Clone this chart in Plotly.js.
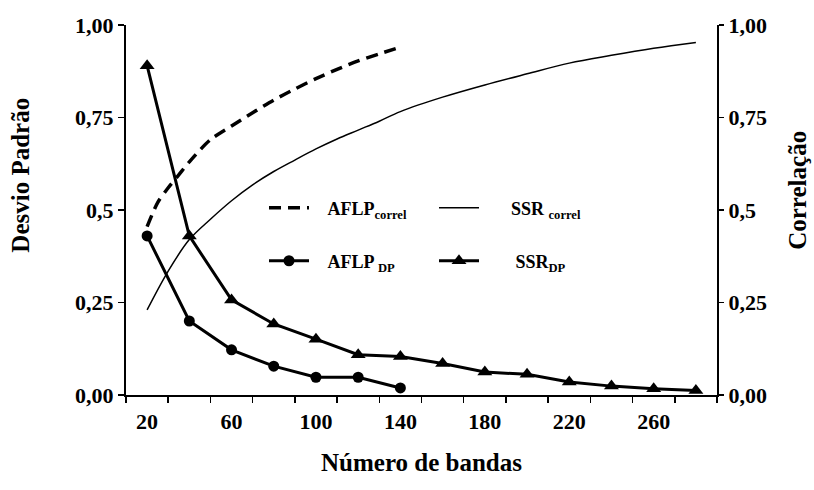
<!DOCTYPE html>
<html>
<head>
<meta charset="utf-8">
<script src="https://cdn.plot.ly/plotly-3.0.1.min.js"></script>
<style>html,body{margin:0;padding:0;background:#fff;}#chart{width:814px;height:490px;}</style>
</head>
<body>
<div id="chart"></div>
<script>
// Categories (número de bandas)
const categories = [20, 40, 60, 80, 100, 120, 140, 160, 180, 200, 220, 240, 260, 280];
const xTickLabels = [20, 60, 100, 140, 180, 220, 260];
const yTickVals = [0, 0.25, 0.5, 0.75, 1];
const yTickText = ["0,00", "0,25", "0,5", "0,75", "1,00"];

// Desvio padrão
const aflpDP = [0.43, 0.20, 0.122, 0.078, 0.048, 0.048, 0.019];
const ssrDP = [0.89, 0.43, 0.257, 0.192, 0.151, 0.109, 0.104, 0.085, 0.062, 0.056, 0.035, 0.024, 0.017, 0.012];

// Correlação
const aflpCorrX = [20, 25, 30, 35, 40, 50, 60, 70, 80, 90, 100, 110, 120, 130, 140];
const aflpCorrY = [0.455, 0.52, 0.56, 0.595, 0.63, 0.69, 0.727, 0.763, 0.797, 0.827, 0.855, 0.88, 0.903, 0.922, 0.94];
const ssrCorrX = [20, 30, 40, 50, 60, 70, 80, 90, 100, 110, 120, 130, 140, 160, 180, 200, 220, 240, 260, 280];
const ssrCorrY = [0.23, 0.335, 0.42, 0.475, 0.525, 0.568, 0.604, 0.635, 0.665, 0.692, 0.716, 0.74, 0.766, 0.805, 0.838, 0.868, 0.897, 0.918, 0.937, 0.953];

const serif = "Liberation Serif, Times New Roman, serif";

const traces = [
  {x: aflpCorrX, y: aflpCorrY, yaxis: 'y2', mode: 'lines', name: '&nbsp;&nbsp;&nbsp;AFLP<sub>correl</sub>',
   line: {color: '#000', width: 3.5, dash: '12px,7px', shape: 'spline', smoothing: 0.8}, legend: 'legend'},
  {x: ssrCorrX, y: ssrCorrY, yaxis: 'y2', mode: 'lines', name: '&nbsp;&nbsp;&nbsp;&nbsp;&nbsp;&nbsp;SSR <sub>correl</sub>',
   line: {color: '#000', width: 1.5, shape: 'spline', smoothing: 1}, legend: 'legend'},
  {x: categories.slice(0, aflpDP.length), y: aflpDP, mode: 'lines+markers', name: '&nbsp;&nbsp;&nbsp;AFLP <sub>DP</sub>',
   line: {color: '#000', width: 3}, marker: {symbol: 'circle', size: 11, color: '#000'}, legend: 'legend2'},
  {x: categories, y: ssrDP, mode: 'lines+markers', name: '&nbsp;&nbsp;&nbsp;&nbsp;&nbsp;&nbsp;&nbsp;SSR<sub>DP</sub>',
   line: {color: '#000', width: 3}, marker: {symbol: 'triangle-up', size: 13, color: '#000'}, legend: 'legend2'}
];

const tickFont = {family: serif, size: 22, color: '#000', weight: 'bold'};
const legendFont = {family: serif, size: 18, color: '#000', weight: 'bold'};
const titleFont = {family: serif, size: 25, color: '#000', weight: 'bold'};

const layout = {
  width: 814, height: 490,
  margin: {l: 126, r: 97, t: 25, b: 95},
  paper_bgcolor: '#fff', plot_bgcolor: '#fff',
  showlegend: true,
  xaxis: {
    range: [10, 290], tickvals: xTickLabels, ticktext: xTickLabels.map(String),
    ticks: 'outside', ticklen: 6, tickcolor: 'rgba(0,0,0,0)',
    minor: {tick0: 10, dtick: 20, ticks: 'outside', ticklen: 6, tickwidth: 1.5, tickcolor: '#000', showgrid: false},
    showline: true, linecolor: '#000', linewidth: 2, showgrid: false, zeroline: false,
    tickfont: tickFont,
    title: {text: 'Número de bandas', font: titleFont, standoff: 20}
  },
  yaxis: {
    range: [0, 1], tickvals: yTickVals, ticktext: yTickText,
    ticks: 'outside', ticklen: 6, tickwidth: 1.5, tickcolor: '#000',
    showline: true, linecolor: '#000', linewidth: 2, showgrid: false, zeroline: false,
    tickfont: tickFont
  },
  yaxis2: {
    range: [0, 1], tickvals: yTickVals, ticktext: yTickText, overlaying: 'y', side: 'right',
    ticks: 'outside', ticklen: 5, tickwidth: 1.5, tickcolor: '#000',
    showline: true, linecolor: '#000', linewidth: 2, showgrid: false, zeroline: false,
    tickfont: tickFont
  },
  legend: {
    orientation: 'h', x: 0.2335, y: 0.505, xanchor: 'left', yanchor: 'middle',
    entrywidth: 115, entrywidthmode: 'pixels', font: legendFont, bgcolor: 'rgba(0,0,0,0)', itemwidth: 40
  },
  legend2: {
    orientation: 'h', x: 0.2335, y: 0.362, xanchor: 'left', yanchor: 'middle',
    entrywidth: 115, entrywidthmode: 'pixels', font: legendFont, bgcolor: 'rgba(0,0,0,0)', itemwidth: 40
  },
  annotations: [
    {text: 'Desvio Padrão', xref: 'paper', yref: 'paper', x: -0.178, y: 0.595, xanchor: 'center', yanchor: 'middle',
     textangle: -90, showarrow: false, font: titleFont},
    {text: 'Correlação', xref: 'paper', yref: 'paper', x: 1.135, y: 0.554, xanchor: 'center', yanchor: 'middle',
     textangle: -90, showarrow: false, font: titleFont}
  ]
};

Plotly.newPlot('chart', traces, layout, {displayModeBar: false, staticPlot: true});
</script>
</body>
</html>
